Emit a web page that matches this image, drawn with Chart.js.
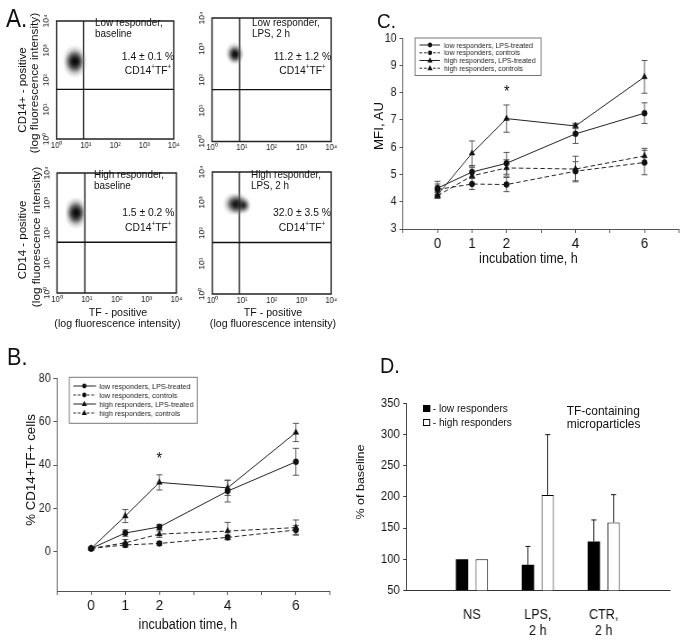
<!DOCTYPE html>
<html>
<head>
<meta charset="utf-8">
<script src="https://cdn.jsdelivr.net/npm/chart.js@4.4.1/dist/chart.umd.min.js"></script>
<style>
html, body { margin:0; padding:0; background:#fff; overflow:hidden; }
#fig { position:relative; width:760px; height:641px; transform:scaleX(0.9); transform-origin:0 0;
       font-family:"Liberation Sans", Arial, sans-serif; color:#111; }
#fig canvas { position:absolute; }
.t { position:absolute; white-space:nowrap; line-height:1; }
.sq { position:absolute; box-sizing:border-box; }
</style>
</head>
<body>
<div id="fig"></div>
<script>
// ---- Panel A: flow cytometry dot plots (log scales) ----
const decades = [1, 10, 100, 1000, 10000];
const decadeLabels = ['10⁰', '10¹', '10²', '10³', '10⁴'];
const gateTF = [8.3, 8.5, 8.6, 8.1];
const gateCD14 = [48, 48, 49, 49];
// cell clouds: TF value, CD14 value, spread in px
const cloudTF = [[4.2, 4.2, 3.9, 4.5], [5.75, 6.0, 5.9], [4.3, 4.3, 4.0, 4.6], [5.0, 8.0, 6.4, 11.5]];
const cloudCD14 = [[540, 330, 430, 430], [760, 600, 680], [620, 350, 470, 470], [900, 880, 870, 800]];
const cloudSize = [[14, 14, 11, 11], [11, 10, 8], [13, 13, 11, 11], [12, 12, 11, 9]];
const plotTitles = [['Low responder,', 'baseline'], ['Low responder,', 'LPS, 2 h'],
                    ['High responder,', 'baseline'], ['High responder,', 'LPS, 2 h']];
const plotPercents = ['1.4 ± 0.1 %', '11.2 ± 1.2 %', '1.5 ± 0.2 %', '32.0 ± 3.5 %'];

// ---- Panels B and C: time course ----
const hours = [0, 1, 2, 4, 6];
const hourTicks = [-1, 0, 1, 2, 3, 4, 5, 6, 7];
const hourLabels = [0, 1, 2, 4, 6];
const seriesNames = ['low responders, LPS-treated', 'low responders, controls',
                     'high responders, LPS-treated', 'high responders, controls'];

// B: % CD14+TF+ cells
const cellsLowLps = [1.6, 8.7, 11.5, 28, 41.5];
const cellsLowLpsErr = [0.5, 1.5, 1.2, 5, 6.2];
const cellsLowCtr = [1.6, 3.2, 3.9, 6.7, 10.1];
const cellsLowCtrErr = [0.4, 1, 0.8, 1, 2];
const cellsHighLps = [1.6, 16.5, 32, 29.5, 55];
const cellsHighLpsErr = [0.5, 3, 3.5, 3.5, 4.2];
const cellsHighCtr = [1.6, 4.2, 8.2, 9.6, 11.2];
const cellsHighCtrErr = [0.4, 1.5, 1.5, 4, 3.5];
const cellTicks = [0, 20, 40, 60, 80];

// C: MFI, AU
const mfiLowLps = [4.5, 5.09, 5.41, 6.49, 7.25];
const mfiLowLpsErr = [0.25, 0.22, 0.4, 0.35, 0.38];
const mfiLowCtr = [4.45, 4.65, 4.63, 5.12, 5.44];
const mfiLowCtrErr = [0.2, 0.2, 0.26, 0.35, 0.45];
const mfiHighLps = [4.25, 5.78, 7.05, 6.78, 8.58];
const mfiHighLpsErr = [0.1, 0.45, 0.5, 0.1, 0.6];
const mfiHighCtr = [4.22, 4.95, 5.24, 5.2, 5.68];
const mfiHighCtrErr = [0.1, 0.3, 0.3, 0.47, 0.28];
const mfiTicks = [3, 4, 5, 6, 7, 8, 9, 10];

// ---- Panel D: TF-containing microparticles ----
const mpGroups = ['', 'NS', ['LPS,', '2 h'], ['CTR,', '2 h'], ''];
const mpLow = [null, 100, 91, 128.5, null];
const mpLowErr = [0, 0, 29.5, 34.5, 0];
const mpHigh = [null, 100, 203, 159, null];
const mpHighErr = [0, 0, 97, 44.6, 0];
const mpTicks = [50, 100, 150, 200, 250, 300, 350];

// ------------------------------------------------------------
const SX = 0.9; // the whole figure is a bit squeezed sideways
const fig = document.getElementById('fig');
Chart.defaults.font.family = '"Liberation Sans", Arial, sans-serif';
Chart.defaults.color = '#111';

const seriesStyle = [
  { point: 'circle', r: 3, dash: [] },
  { point: 'circle', r: 3, dash: [5, 3] },
  { point: 'triangle', r: 3.6, dash: [] },
  { point: 'triangle', r: 3.6, dash: [5, 3] }
];

function addText(str, x, y, size, how) {
  const d = document.createElement('div');
  d.className = 't';
  d.innerHTML = str;
  d.style.left = (x / SX) + 'px';
  d.style.top = y + 'px';
  d.style.fontSize = size + 'px';
  if (how === 'left') d.style.transform = 'translate(0,-50%)';
  else if (how === 'rot') d.style.transform = 'translate(-50%,-50%) rotate(-90deg)';
  else d.style.transform = 'translate(-50%,-50%)';
  fig.appendChild(d);
}

function addSquare(x, y, w, h, fill) {
  const d = document.createElement('div');
  d.className = 'sq';
  d.style.left = (x / SX) + 'px'; d.style.top = y + 'px';
  d.style.width = (w / SX) + 'px'; d.style.height = h + 'px';
  d.style.background = fill; d.style.border = '1px solid #000';
  fig.appendChild(d);
}

// canvas placed so that the plot area lands on "area" (picture px)
function frame(area, outer) {
  const cl = Math.round(outer.L / SX), cr = Math.round(outer.R / SX);
  const ct = Math.round(outer.T), cb = Math.round(outer.B);
  const c = document.createElement('canvas');
  c.width = cr - cl; c.height = cb - ct;
  c.style.left = cl + 'px'; c.style.top = ct + 'px';
  c.style.width = (cr - cl) + 'px'; c.style.height = (cb - ct) + 'px';
  fig.appendChild(c);
  return { canvas: c, cl: cl, ct: ct,
    m: { l: area.L / SX - cl, r: cr - area.R / SX, t: area.T - ct, b: cb - area.B } };
}

function cloudFill(c) {
  const plain = 'rgba(30,30,30,0.45)';
  if (!c || c.type !== 'data' || !c.parsed || !c.raw) return plain;
  const ch = c.chart;
  if (!ch || !ch.scales || !ch.scales.x || !ch.scales.y) return plain;
  const x = ch.scales.x.getPixelForValue(c.parsed.x), y = ch.scales.y.getPixelForValue(c.parsed.y);
  const r = c.raw.r;
  if (!isFinite(x) || !isFinite(y) || !(r > 0)) return plain;
  const g = ch.ctx.createRadialGradient(x, y, 0, x, y, r);
  g.addColorStop(0, 'rgba(0,0,0,0.8)');
  g.addColorStop(0.3, 'rgba(20,20,20,0.6)');
  g.addColorStop(0.65, 'rgba(80,80,80,0.25)');
  g.addColorStop(1, 'rgba(170,170,170,0)');
  return g;
}

// box round the dot plot + rotated decade labels on the y side
const plotBox = {
  id: 'plotBox',
  afterDatasetsDraw(chart) {
    const ctx = chart.ctx, a = chart.chartArea, ys = chart.scales.y;
    ctx.save();
    ctx.strokeStyle = '#222';
    ctx.lineWidth = 1.5;
    ctx.strokeRect(a.left, a.top, a.right - a.left, a.bottom - a.top);
    ctx.fillStyle = '#222';
    ctx.font = '8.5px "Liberation Sans", Arial, sans-serif';
    ctx.textAlign = 'center';
    ctx.textBaseline = 'middle';
    decades.forEach((v, i) => {
      const y = ys.getPixelForValue(v);
      ctx.save();
      ctx.translate(a.left - 10 / SX, y);
      ctx.rotate(-Math.PI / 2);
      ctx.fillText(decadeLabels[i], 0, 0);
      ctx.restore();
    });
    ctx.restore();
  }
};

const errorBars = {
  id: 'errorBars',
  beforeDatasetsDraw(chart) {
    const ctx = chart.ctx, ys = chart.scales.y;
    ctx.save();
    chart.data.datasets.forEach((ds, i) => {
      if (!ds.errors) return;
      const meta = chart.getDatasetMeta(i);
      ctx.strokeStyle = ds.errColor || '#555';
      ctx.lineWidth = 1;
      ctx.setLineDash([]);
      meta.data.forEach((el, j) => {
        const raw = ds.data[j];
        const v = raw && typeof raw === 'object' ? raw.y : raw;
        const e = ds.errors[j];
        if (v == null || !e || !el) return;
        const x = el.x, hw = (ds.capHalf || 3) / SX;
        const top = ys.getPixelForValue(v + e);
        const bot = ds.upOnly ? el.y : ys.getPixelForValue(v - e);
        ctx.beginPath();
        ctx.moveTo(x, top); ctx.lineTo(x, bot);
        ctx.moveTo(x - hw, top); ctx.lineTo(x + hw, top);
        if (!ds.upOnly) { ctx.moveTo(x - hw, bot); ctx.lineTo(x + hw, bot); }
        ctx.stroke();
      });
    });
    ctx.restore();
  }
};

function keyMarker(ctx, style, r, x, y) {
  ctx.beginPath();
  if (style === 'triangle') {
    ctx.moveTo(x, y - r * 1.1);
    ctx.lineTo(x + r, y + r * 0.7);
    ctx.lineTo(x - r, y + r * 0.7);
    ctx.closePath();
  } else {
    ctx.arc(x, y, r, 0, Math.PI * 2);
  }
  ctx.fill();
}

// boxed key with line sample + marker, drawn inside the plot
const seriesKey = {
  id: 'seriesKey',
  afterDraw(chart) {
    const o = chart.options.plugins.seriesKey;
    if (!o || !o.box) return;
    const ctx = chart.ctx;
    const X = v => v / SX - o.f.cl, Y = v => v - o.f.ct;
    ctx.save();
    ctx.strokeStyle = '#777';
    ctx.lineWidth = 1;
    ctx.strokeRect(X(o.box[0]), Y(o.box[1]), X(o.box[2]) - X(o.box[0]), Y(o.box[3]) - Y(o.box[1]));
    ctx.font = o.size + 'px "Liberation Sans", Arial, sans-serif';
    ctx.textBaseline = 'middle';
    chart.data.datasets.forEach((ds, i) => {
      const y = Y(o.rows[i]);
      ctx.strokeStyle = '#222';
      ctx.setLineDash(ds.borderDash && ds.borderDash.length ? [3, 2] : []);
      ctx.beginPath();
      ctx.moveTo(X(o.line[0]), y); ctx.lineTo(X(o.line[1]), y);
      ctx.stroke();
      ctx.setLineDash([]);
      ctx.fillStyle = '#111';
      keyMarker(ctx, ds.pointStyle, ds.pointRadius * 0.8, X(o.mark), y);
      ctx.fillStyle = '#222';
      ctx.fillText(ds.label, X(o.text), y + 0.5);
    });
    ctx.restore();
  }
};

function safe(fn) {
  try { fn(); } catch (e) { console.error(e && e.stack ? e.stack : e); }
}

// ---------------- Panel A ----------------
const aAreas = [
  { L: 56.5, T: 15, R: 178.5, B: 141.5 }, { L: 212, T: 15, R: 333.5, B: 141.5 },
  { L: 57, T: 168.3, R: 180, B: 295 }, { L: 212.3, T: 168.3, R: 334, B: 295 }
];
aAreas.forEach((a, k) => safe(() => {
  const f = frame(a, { L: a.L - 19, T: a.T - 8, R: a.R + 8, B: a.B + 11 });
  new Chart(f.canvas, {
    type: 'scatter',
    data: {
      datasets: [
        { type: 'bubble', data: cloudTF[k].map((v, i) => ({ x: v, y: cloudCD14[k][i], r: cloudSize[k][i] })),
          backgroundColor: cloudFill, borderWidth: 0, clip: false },
        { data: [{ x: gateTF[k], y: 1 }, { x: gateTF[k], y: 10000 }], showLine: true,
          borderColor: '#111', borderWidth: 1.4, pointRadius: 0 },
        { data: [{ x: 1, y: gateCD14[k] }, { x: 10000, y: gateCD14[k] }], showLine: true,
          borderColor: '#111', borderWidth: 1.4, pointRadius: 0 }
      ]
    },
    options: {
      responsive: false, animation: false, devicePixelRatio: 1, events: [],
      layout: { padding: { left: f.m.l, top: f.m.t, right: f.m.r, bottom: 0 } },
      plugins: { legend: { display: false }, tooltip: { enabled: false } },
      scales: {
        x: { type: 'logarithmic', min: 1, max: 10000,
             afterBuildTicks: s => { s.ticks = decades.map(v => ({ value: v })); },
             afterFit: s => { s.height = f.m.b; },
             grid: { display: false, drawTicks: false }, border: { display: false },
             ticks: { font: { size: 8.5 }, color: '#222', padding: 1.5, maxRotation: 0, autoSkip: false,
                      callback: v => decadeLabels[Math.round(Math.log10(v))] } },
        y: { type: 'logarithmic', min: 1, max: 10000, display: false }
      }
    },
    plugins: [plotBox]
  });
}));

// quadrant notes
const noteLeft = [95, 252, 94, 251];
const noteTop = [21.7, 21.7, 174.3, 173.5];
const pctX = [148, 302.5, 148.3, 302];
const pctY = [56.7, 56.7, 213.3, 213.3];
for (let k = 0; k < 4; k++) {
  addText(plotTitles[k][0], noteLeft[k], noteTop[k], 11, 'left');
  addText(plotTitles[k][1], noteLeft[k], noteTop[k] + 11, 11, 'left');
  addText(plotPercents[k], pctX[k], pctY[k], 11.5);
  addText('CD14<sup style="font-size:7px">+</sup>TF<sup style="font-size:7px">+</sup>', pctX[k], pctY[k] + 13.5, 11.5);
}
addText('A.', 6, 18, 25, 'left');
addText('CD14+ - positive', 23, 90, 11.5, 'rot');
addText('(log fluorescence intensity)', 35.5, 83, 11.8, 'rot');
addText('CD14 - positive', 23, 240, 11.5, 'rot');
addText('(log fluorescence intensity)', 36.5, 237, 11.8, 'rot');
addText('TF - positive', 118, 312.7, 11.8);
addText('(log fluorescence intensity)', 117.5, 323.5, 11.8);
addText('TF - positive', 273, 312.7, 11.8);
addText('(log fluorescence intensity)', 273, 323.5, 11.8);

// ---------------- Panels B and C ----------------
function timeSeries(values, errs, k) {
  const st = seriesStyle[k];
  return {
    label: seriesNames[k],
    data: hours.map((h, i) => ({ x: h, y: values[i] })),
    errors: errs, capHalf: 3,
    borderColor: '#222', borderWidth: 1, borderDash: st.dash,
    pointStyle: st.point, pointRadius: st.r,
    pointBackgroundColor: '#111', pointBorderColor: '#111', pointBorderWidth: 0.5,
    fill: false, tension: 0
  };
}

function timeOptions(f, yMin, yMax, yTicks, key) {
  return {
    responsive: false, animation: false, devicePixelRatio: 1, events: [],
    layout: { padding: { left: 0, top: f.m.t, right: f.m.r, bottom: 0 } },
    plugins: { legend: { display: false }, tooltip: { enabled: false }, seriesKey: key },
    scales: {
      x: { type: 'linear', min: -1, max: 7,
           afterBuildTicks: s => { s.ticks = hourTicks.map(v => ({ value: v })); },
           afterFit: s => { s.height = f.m.b; },
           ticks: { font: { size: 15 }, color: '#111', padding: 2, autoSkip: false, maxRotation: 0,
                    callback: v => hourLabels.includes(v) ? String(v) : '' },
           grid: { display: true, drawOnChartArea: false, tickLength: 4, color: '#555', lineWidth: 1 },
           border: { display: true, color: '#555', width: 1 } },
      y: { min: yMin, max: yMax,
           afterBuildTicks: s => { s.ticks = yTicks.map(v => ({ value: v })); },
           afterFit: s => { s.width = f.m.l; },
           ticks: { font: { size: 12 }, color: '#222', padding: 3 },
           grid: { display: true, drawOnChartArea: false, tickLength: 4, color: '#555', lineWidth: 1 },
           border: { display: true, color: '#555', width: 1 } }
    }
  };
}

safe(() => {
  const fb = frame({ L: 57, T: 377, R: 330, B: 591 }, { L: 5, T: 368, R: 338, B: 618 });
  new Chart(fb.canvas, {
    type: 'line',
    data: { datasets: [
      timeSeries(cellsLowLps, cellsLowLpsErr, 0),
      timeSeries(cellsLowCtr, cellsLowCtrErr, 1),
      timeSeries(cellsHighLps, cellsHighLpsErr, 2),
      timeSeries(cellsHighCtr, cellsHighCtrErr, 3)
    ] },
    options: timeOptions(fb, -18, 80, cellTicks,
      { f: fb, box: [69.3, 377.3, 197.3, 423.3], rows: [386, 395, 404, 413], line: [73.3, 96], mark: 84.3, text: 99.3, size: 8 }),
    plugins: [errorBars, seriesKey]
  });
});

safe(() => {
  const fc = frame({ L: 403, T: 36, R: 679, B: 229 }, { L: 355, T: 28, R: 684, B: 252 });
  new Chart(fc.canvas, {
    type: 'line',
    data: { datasets: [
      timeSeries(mfiLowLps, mfiLowLpsErr, 0),
      timeSeries(mfiLowCtr, mfiLowCtrErr, 1),
      timeSeries(mfiHighLps, mfiHighLpsErr, 2),
      timeSeries(mfiHighCtr, mfiHighCtrErr, 3)
    ] },
    options: timeOptions(fc, 3, 10, mfiTicks,
      { f: fc, box: [415, 38, 541, 75.5], rows: [45, 52.8, 60.5, 68.2], line: [419.5, 440], mark: 430, text: 444, size: 7.8 }),
    plugins: [errorBars, seriesKey]
  });
});

addText('B.', 7, 356.5, 24, 'left');
addText('% CD14+TF+ cells', 31, 470, 13.3, 'rot');
addText('incubation time, h', 188, 624, 14);
addText('*', 159.3, 458.5, 16);
addText('C.', 377, 20, 21, 'left');
addText('MFI, AU', 379, 126, 13.3, 'rot');
addText('incubation time, h', 528.5, 258, 14);
addText('*', 506.7, 92, 16);

// ---------------- Panel D ----------------
safe(() => {
  const fd = frame({ L: 406, T: 401.7, R: 672, B: 590.3 }, { L: 358, T: 392, R: 684, B: 641 });
  new Chart(fd.canvas, {
    type: 'bar',
    data: {
      labels: mpGroups,
      datasets: [
        { label: 'low responders', data: mpLow, errors: mpLowErr, upOnly: true, errColor: '#111', capHalf: 2.5,
          backgroundColor: '#000', borderWidth: 0, categoryPercentage: 0.6, barPercentage: 0.625 },
        { label: 'high responders', data: mpHigh, errors: mpHighErr, upOnly: true, errColor: '#111', capHalf: 2.5,
          backgroundColor: '#fff', borderColor: '#000', borderWidth: 1, categoryPercentage: 0.6, barPercentage: 0.625 }
      ]
    },
    options: {
      responsive: false, animation: false, devicePixelRatio: 1, events: [],
      layout: { padding: { left: 0, top: fd.m.t, right: fd.m.r, bottom: 0 } },
      plugins: { legend: { display: false }, tooltip: { enabled: false } },
      scales: {
        x: { type: 'category', offset: false,
             afterFit: s => { s.height = fd.m.b; },
             grid: { display: false, drawTicks: false }, border: { display: true, color: '#333', width: 1 },
             ticks: { font: { size: 14, lineHeight: 1.2 }, color: '#111', padding: 16, autoSkip: false, maxRotation: 0 } },
        y: { min: 50, max: 350,
             afterBuildTicks: s => { s.ticks = mpTicks.map(v => ({ value: v })); },
             afterFit: s => { s.width = fd.m.l; },
             ticks: { font: { size: 12.5 }, color: '#111', padding: 4 },
             grid: { display: true, drawOnChartArea: false, tickLength: 3, color: '#333' },
             border: { display: true, color: '#333', width: 1 } }
      }
    },
    plugins: [errorBars]
  });
});

addText('D.', 380, 366, 22, 'left');
addText('% of baseline', 361, 481.5, 12.5, 'rot');
addSquare(423.3, 405, 7, 7, '#000');
addText('- low responders', 432.7, 409, 11.3, 'left');
addSquare(423.3, 419, 7, 7, '#fff');
addText('- high responders', 432.7, 423, 11.3, 'left');
addText('TF-containing', 566.7, 410.5, 13.3, 'left');
addText('microparticles', 566.7, 423.5, 13.3, 'left');
</script>
</body>
</html>
